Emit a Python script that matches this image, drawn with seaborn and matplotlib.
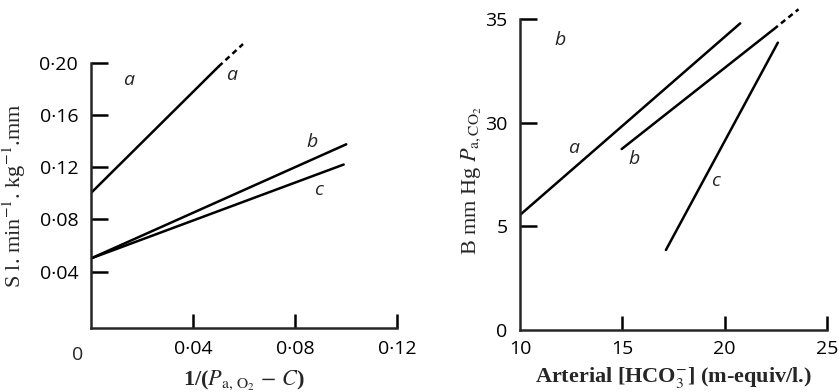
import pandas as pd
import seaborn as sns
import matplotlib.pyplot as plt

sns.set_style('ticks')
plt.rcParams['font.family'] = ['Open Sans', 'DejaVu Sans']
plt.rcParams['mathtext.fontset'] = 'stix'

# left panel: S against 1/(Pa,O2 - C)
left_x = {'a': [0.0, 0.050], 'b': [0.0, 0.100], 'c': [0.0, 0.099]}
left_y = {'a': [0.100, 0.197], 'b': [0.050, 0.1375], 'c': [0.050, 0.122]}
left_dash_x = [0.050, 0.0596]
left_dash_y = [0.197, 0.2143]
left_xticks = [0.04, 0.08, 0.12]
left_xticklabels = ['0·04', '0·08', '0·12']
left_yticks = [0.04, 0.08, 0.12, 0.16, 0.20]
left_yticklabels = ['0·04', '0·08', '0·12', '0·16', '0·20']
left_labels = [('a', 0.0148, 0.1868), ('a', 0.0553, 0.1906),
               ('b', 0.0867, 0.1389), ('c', 0.0893, 0.1022)]

# right panel: B against arterial bicarbonate
right_x = {'a': [10.0, 20.76], 'b': [14.97, 22.39], 'c': [17.13, 22.6]}
right_y = {'a': [25.55, 34.79], 'b': [28.73, 34.5], 'c': [23.86, 33.86]}
right_dash_x = [22.39, 23.61]
right_dash_y = [34.5, 35.47]
right_xticks = [15, 20, 25]
right_yticks = [25, 30, 35]
right_yticklabels = ['5', '30', '35']
right_labels = [('b', 11.96, 33.99), ('a', 12.64, 28.76),
                ('b', 15.59, 28.23), ('c', 19.54, 27.19)]

fig = plt.figure(figsize=(8.4, 3.92), dpi=100)
ax1 = fig.add_axes([0.108, 0.164, 0.365, 0.676])
ax2 = fig.add_axes([0.619, 0.158, 0.3655, 0.7935])

serif = ['Liberation Serif', 'DejaVu Serif']
lw = 1.8
dash = (0, (2.2, 1.6))

for k in left_x:
    df = pd.DataFrame({'x': left_x[k], 'y': left_y[k]})
    sns.lineplot(data=df, x='x', y='y', ax=ax1, color='black', lw=lw)
sns.lineplot(x=left_dash_x, y=left_dash_y, ax=ax1, color='black', lw=lw,
             linestyle=dash, clip_on=False)
for s, x, y in left_labels:
    ax1.text(x, y, s, style='italic', fontsize=14, ha='center', va='center')

for k in right_x:
    df = pd.DataFrame({'x': right_x[k], 'y': right_y[k]})
    sns.lineplot(data=df, x='x', y='y', ax=ax2, color='black', lw=lw)
sns.lineplot(x=right_dash_x, y=right_dash_y, ax=ax2, color='black', lw=lw,
             linestyle=dash, clip_on=False)
for s, x, y in right_labels:
    ax2.text(x, y, s, style='italic', fontsize=14, ha='center', va='center')

ax1.set_xlim(0, 0.12)
ax1.set_ylim(-0.003, 0.20)
ax1.set_xticks(left_xticks)
ax1.set_xticklabels(left_xticklabels)
ax1.set_yticks(left_yticks)
ax1.set_yticklabels(left_yticklabels)
ax1.text(-0.005, -0.017, '0', fontsize=14, ha='center', va='top')
ax1.set_xlabel(r'1/($P_{\mathrm{a,\,O_2}}$$\,-\,$$C$)', family=serif,
               fontsize=16, fontweight='bold')
ax1.set_ylabel(r'S l. min$^{-1}$. kg$^{-1}$.mm', family=serif, fontsize=16)
ax1.xaxis.set_label_coords(0.5, -0.155)
ax1.yaxis.set_label_coords(-0.205, 0.5)

ax2.set_xlim(10, 25)
ax2.set_ylim(20, 35)
ax2.set_xticks([10] + right_xticks)
ax2.set_yticks([20] + right_yticks)
ax2.set_yticklabels(['0'] + right_yticklabels)
ax2.set_xlabel(r'Arterial [HCO$_3^{-}$] (m-equiv/l.)', family=serif,
               fontsize=16, fontweight='bold')
ax2.set_ylabel(r'B mm Hg $P_{\mathrm{a,CO_2}}$', family=serif, fontsize=16)
ax2.xaxis.set_label_coords(0.5, -0.112)
ax2.yaxis.set_label_coords(-0.12, 0.48)

for ax, pad_x, pad_y in [(ax1, 9, 9), (ax2, 7, 9)]:
    sns.despine(ax=ax)
    ax.spines['left'].set_linewidth(1.8)
    ax.spines['bottom'].set_linewidth(1.8)
    ax.tick_params(axis='both', direction='in', width=1.8, labelsize=14,
                   colors='black')
    ax.tick_params(axis='x', length=10, pad=pad_x)
    ax.tick_params(axis='y', length=12, pad=pad_y)

# no tick marks at the corner values on the right panel
ax2.xaxis.get_major_ticks()[0].tick1line.set_visible(False)
ax2.yaxis.get_major_ticks()[0].tick1line.set_visible(False)

fig.savefig('out.png', dpi=100)
